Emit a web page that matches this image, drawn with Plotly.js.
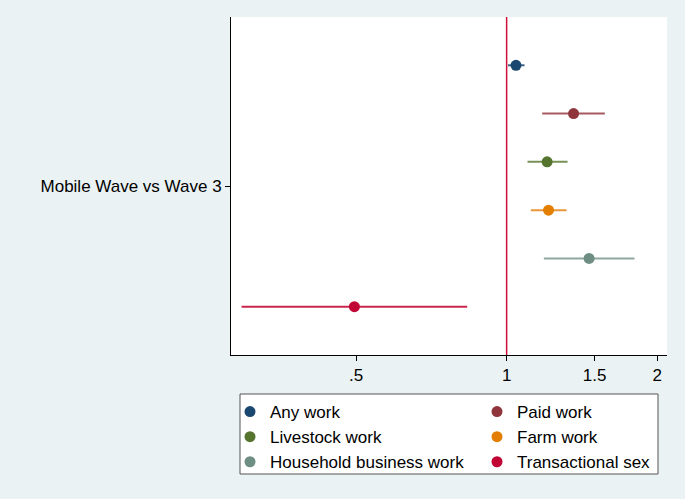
<!DOCTYPE html>
<html>
<head>
<meta charset="utf-8">
<script src="https://cdn.plot.ly/plotly-3.0.1.min.js"></script>
<style>html,body{margin:0;padding:0;background:#EAF2F3;}#chart{width:685px;height:499px;}</style>
</head>
<body>
<div id="chart"></div>
<script>
// Data (odds ratios and 95% CI)
const seriesNames = ["Any work", "Paid work", "Livestock work", "Farm work", "Household business work", "Transactional sex"];
const estimates  = [1.044, 1.361, 1.205, 1.213, 1.462, 0.496];
const ciLow      = [1.006, 1.178, 1.101, 1.118, 1.187, 0.295];
const ciHigh     = [1.086, 1.572, 1.324, 1.318, 1.802, 0.834];
const categoryLabel = "Mobile Wave vs Wave 3";
const xTickVals  = [0.5, 1, 1.5, 2];
const xTickText  = [".5", "1", "1.5", "2"];
const refValue   = 1;

const colors = ["#1a476f", "#90353b", "#55752f", "#e37e00", "#6e8e84", "#c10534"];
const ciColors = ["#3f6386", "#a65a5f", "#779157", "#e8973a", "#8fa8a0", "#c9264e"];

const W = 685, H = 499;
const M = {l: 231, r: 18, t: 17, b: 144};
const pw = W - M.l - M.r, ph = H - M.t - M.b;
const px2paperX = px => (px - M.l) / pw;
const py2paperY = py => (H - M.b - py) / ph;

const traces = seriesNames.map((name, i) => ({
  type: "scatter",
  mode: "markers",
  name: name,
  legend: (i % 2 === 0) ? "legend" : "legend2",
  x: [estimates[i]],
  y: [i + 1],
  marker: {color: colors[i], size: 11},
  error_x: {
    type: "data",
    symmetric: false,
    array: [ciHigh[i] - estimates[i]],
    arrayminus: [estimates[i] - ciLow[i]],
    color: ciColors[i],
    thickness: 2,
    width: 0
  },
  hoverinfo: "x+name"
}));

const legendCommon = {
  orientation: "v",
  xref: "container", yref: "container",
  xanchor: "left", yanchor: "top",
  bgcolor: "rgba(0,0,0,0)",
  borderwidth: 0,
  font: {size: 17, color: "#000"},
  traceorder: "normal",
  itemsizing: "trace",
  tracegroupgap: 0
};

const layout = {
  width: W, height: H,
  paper_bgcolor: "#EAF2F3",
  plot_bgcolor: "#FFFFFF",
  margin: {l: M.l, r: M.r, t: M.t, b: M.b, autoexpand: false},
  font: {family: "Liberation Sans, Arial, sans-serif", size: 17, color: "#000000"},
  showlegend: true,
  xaxis: {
    type: "log",
    range: [Math.log10(0.281), Math.log10(2.093)],
    tickvals: xTickVals, ticktext: xTickText,
    ticks: "outside", ticklen: 5, tickcolor: "#000", tickwidth: 1,
    showgrid: false, zeroline: false,
    showline: true, linecolor: "#000", linewidth: 1,
    tickfont: {size: 17, color: "#000"}
  },
  yaxis: {
    range: [7, 0],
    tickvals: [3.5], ticktext: [categoryLabel],
    ticks: "outside", ticklen: 5, tickcolor: "#000", tickwidth: 1,
    showgrid: false, zeroline: false,
    showline: true, linecolor: "#000", linewidth: 1,
    tickfont: {size: 17, color: "#000"}
  },
  shapes: [
    {
      type: "line", xref: "x", yref: "paper",
      x0: refValue, x1: refValue, y0: 0, y1: 1,
      line: {color: "#d0103a", width: 1.5},
      layer: "below"
    },
    {
      type: "rect", xref: "paper", yref: "paper",
      x0: px2paperX(240), x1: px2paperX(658),
      y0: py2paperY(474), y1: py2paperY(394),
      fillcolor: "#FFFFFF",
      line: {color: "#555555", width: 1},
      layer: "above"
    }
  ],
  legend: Object.assign({}, legendCommon, {x: 230 / W, y: 1 - 394 / H}),
  legend2: Object.assign({}, legendCommon, {x: 477 / W, y: 1 - 394 / H})
};

Plotly.newPlot("chart", traces, layout, {displayModeBar: false, staticPlot: true});
</script>
</body>
</html>
